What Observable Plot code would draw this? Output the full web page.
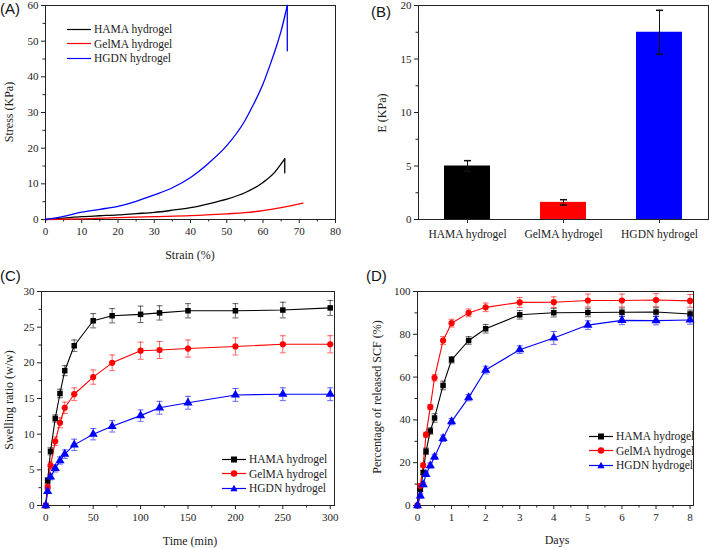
<!DOCTYPE html>
<html><head><meta charset="utf-8">
<script src="https://cdn.jsdelivr.net/npm/d3@7"></script>
<script src="https://cdn.jsdelivr.net/npm/@observablehq/plot@0.6"></script>
<style>
body{margin:0;background:#fff;}
#wrap{position:relative;width:709px;height:548px;overflow:hidden;font-family:"Liberation Serif","Times New Roman","DejaVu Serif",serif;color:#222;}
.t{position:absolute;white-space:nowrap;font-size:12px;transform:translate(-50%,-50%);}
.r{transform:translate(-50%,-50%) rotate(-90deg);}
.pl{position:absolute;font-family:"Liberation Sans",Arial,sans-serif;font-size:15px;color:#111;}
.leg{position:absolute;font-size:11.5px;line-height:14px;}
.leg div{height:14.5px;display:flex;align-items:center;}
.leg svg{margin-right:3px;}
</style></head><body><div id="wrap"></div>
<script>
// ---------- shared ----------
const names = ["HAMA hydrogel", "GelMA hydrogel", "HGDN hydrogel"];
const colors = ["#000000", "#ff0000", "#0000ff"];
const symbols = ["square", "circle", "triangle"];

// ---------- (A) stress-strain (last point of HAMA/HGDN = post-break drop) ----------
const strainHAMA = [0, 5, 10, 15, 20, 25, 30, 35, 40, 45, 50, 55, 60, 63, 65, 66.0, 66.0];
const stressHAMA = [0, 0.4, 0.8, 1.05, 1.3, 1.65, 2.0, 2.6, 3.3, 4.4, 5.7, 7.5, 10.4, 13.0, 15.6, 17.0, 13.1];
const strainGelMA = [0, 10, 20, 30, 40, 50, 55, 60, 65, 71];
const stressGelMA = [0, 0.2, 0.5, 0.8, 1.1, 1.6, 1.9, 2.5, 3.3, 4.6];
const strainHGDN = [0, 5, 10, 15, 20, 25, 30, 35, 40, 45, 50, 55, 57.5, 60, 62, 64, 65, 66.7, 66.7];
const stressHGDN = [0, 0.9, 2.05, 2.85, 3.7, 5.1, 6.9, 8.9, 11.8, 15.8, 20.7, 27.7, 32.5, 38.0, 43.5, 49.5, 52.9, 60.0, 47.3];
const xTicksA = [0, 10, 20, 30, 40, 50, 60, 70, 80];
const xMinorA = [5, 15, 25, 35, 45, 55, 65, 75];
const yTicksA = [0, 10, 20, 30, 40, 50, 60];
const yMinorA = [5, 15, 25, 35, 45, 55];

// ---------- (B) modulus ----------
const modulusMean = [5.0, 1.6, 17.5];
const modulusErr = [0.5, 0.25, 2.05];
const yTicksB = [0, 5, 10, 15, 20];
const yMinorB = [2.5, 7.5, 12.5, 17.5];

// ---------- (C) swelling ----------
const timeMin = [0, 2, 5, 10, 15, 20, 30, 50, 70, 100, 120, 150, 200, 250, 300];
const swellHAMA = [0, 3.5, 7.6, 12.2, 15.7, 18.9, 22.4, 25.9, 26.6, 26.8, 27.0, 27.3, 27.3, 27.4, 27.7];
const swellHAMAErr = [0, 0.4, 0.5, 0.5, 0.6, 0.7, 0.8, 1.0, 1.0, 1.15, 1.0, 1.0, 1.0, 1.1, 1.05];
const swellGelMA = [0, 2.6, 5.6, 9.0, 11.6, 13.7, 15.6, 18.0, 20.0, 21.7, 21.8, 22.0, 22.3, 22.6, 22.6];
const swellGelMAErr = [0, 0.3, 0.5, 0.6, 0.7, 0.8, 0.9, 1.0, 1.1, 1.2, 1.2, 1.2, 1.2, 1.2, 1.2];
const swellHGDN = [0, 2.0, 4.0, 5.2, 6.3, 7.2, 8.5, 10.0, 11.1, 12.6, 13.7, 14.4, 15.5, 15.6, 15.6];
const swellHGDNErr = [0, 0.3, 0.4, 0.5, 0.5, 0.6, 0.8, 0.8, 0.8, 0.8, 0.9, 0.9, 0.9, 0.9, 0.9];
const xTicksC = [0, 50, 100, 150, 200, 250, 300];
const xMinorC = [25, 75, 125, 175, 225, 275];
const yTicksC = [0, 5, 10, 15, 20, 25, 30];
const yMinorC = [2.5, 7.5, 12.5, 17.5, 22.5, 27.5];

// ---------- (D) release ----------
const days = [0, 0.083, 0.167, 0.25, 0.375, 0.5, 0.75, 1, 1.5, 2, 3, 4, 5, 6, 7, 8];
const relHAMA = [0, 7.5, 15.4, 25.3, 34.8, 40.9, 56.1, 68.1, 77.1, 82.6, 89.1, 90.1, 90.2, 90.3, 90.4, 89.5];
const relHAMAErr = [0, 1, 1, 1.5, 1.5, 2, 2, 1.5, 1.8, 2, 2, 2, 2, 2, 2, 1.8];
const relGelMA = [0, 9.2, 18.8, 33.1, 46.0, 59.7, 77.1, 85.2, 90.0, 92.6, 94.9, 95.0, 95.8, 95.8, 96.0, 95.6];
const relGelMAErr = [0, 1, 1, 1.2, 1.2, 1.5, 1.8, 1.8, 1.8, 2, 2.3, 2.5, 3, 3, 3, 3];
const relHGDN = [0, 4.5, 9.8, 14.6, 18.7, 22.7, 31.4, 39.2, 50.4, 63.3, 72.8, 78.3, 84.3, 86.5, 86.4, 86.7];
const relHGDNErr = [0, 1, 1, 1, 1.2, 1.2, 1.5, 1.5, 1.5, 1.8, 1.8, 3, 2, 2, 2, 2];
const xTicksD = [0, 1, 2, 3, 4, 5, 6, 7, 8];
const xMinorD = [0.5, 1.5, 2.5, 3.5, 4.5, 5.5, 6.5, 7.5];
const yTicksD = [0, 20, 40, 60, 80, 100];
const yMinorD = [10, 30, 50, 70, 90];

// ---------- helpers ----------
const wrap = document.getElementById("wrap");
function place(node, left, top) {
  const d = document.createElement("div");
  d.style.cssText = `position:absolute;left:${left}px;top:${top}px;`;
  d.appendChild(node);
  wrap.appendChild(d);
}
function text(str, x, y, cls = "t", extra = "") {
  const d = document.createElement("div");
  d.className = cls;
  d.style.cssText = `left:${x}px;top:${y}px;${extra}`;
  d.textContent = str;
  wrap.appendChild(d);
}
const style = {fontFamily: "'Liberation Serif', 'Times New Roman', 'DejaVu Serif', serif", fontSize: "11px", color: "#222", background: "transparent", overflow: "visible"};
const cap = {draw(ctx, size) { const w = Math.sqrt(size / Math.PI); ctx.moveTo(-w, 0); ctx.lineTo(w, 0); }};
const noText = () => "";
function axes(xt, xm, yt, ym) {
  const m = [
    Plot.frame({stroke: "#222", strokeWidth: 1}),
    Plot.axisY(yt, {tickSize: 4, tickPadding: 3, label: null, stroke: "#222"}),
    Plot.axisY(ym, {tickSize: 2.5, tickFormat: noText, label: null, stroke: "#222"})
  ];
  if (xt) m.push(Plot.axisX(xt, {tickSize: 4, tickPadding: 4, label: null, stroke: "#222"}));
  if (xm) m.push(Plot.axisX(xm, {tickSize: 2.5, tickFormat: noText, label: null, stroke: "#222"}));
  return m;
}
function seriesTable(xs, ys, es) {
  return xs.map((x, j) => ({x, y: ys[j], e: es ? es[j] : 0}));
}
function errMarks(tables) {
  const m = [];
  tables.forEach((t, i) => {
    const withErr = t.filter(d => d.e > 0);
    const o = {stroke: colors[i], strokeOpacity: 0.6, strokeWidth: 1};
    m.push(Plot.ruleX(withErr, {x: "x", y1: d => d.y - d.e, y2: d => d.y + d.e, ...o}));
    m.push(Plot.dot(withErr, {x: "x", y: d => d.y + d.e, symbol: cap, r: 3, fill: "none", ...o}));
    m.push(Plot.dot(withErr, {x: "x", y: d => d.y - d.e, symbol: cap, r: 3, fill: "none", ...o}));
  });
  return m;
}
function lineDotMarks(tables) {
  const m = [];
  tables.forEach((t, i) => m.push(Plot.line(t, {x: "x", y: "y", stroke: colors[i], strokeWidth: 1.1})));
  tables.forEach((t, i) => m.push(Plot.dot(t, {x: "x", y: "y", symbol: symbols[i], r: symbols[i] === "triangle" ? 3.4 : 3.1, fill: colors[i], stroke: "none"})));
  return m;
}
function legend(left, top, withMarkers) {
  const box = document.createElement("div");
  box.className = "leg";
  box.style.cssText = `left:${left}px;top:${top}px;`;
  names.forEach((n, i) => {
    const row = document.createElement("div");
    const s = withMarkers ? symbols[i] : null;
    let mk = "";
    if (s === "square") mk = `<rect x="9" y="2.5" width="6" height="6" fill="${colors[i]}"/>`;
    else if (s === "circle") mk = `<circle cx="12" cy="5.5" r="3.2" fill="${colors[i]}"/>`;
    else if (s === "triangle") mk = `<path d="M12,1.8L15.6,8.3L8.4,8.3Z" fill="${colors[i]}"/>`;
    row.innerHTML = `<svg width="24" height="11"><line x1="0" x2="24" y1="5.5" y2="5.5" stroke="${colors[i]}" stroke-width="1.2"/>${mk}</svg><span>${n}</span>`;
    box.appendChild(row);
  });
  wrap.appendChild(box);
}

// ---------- Panel A ----------
const tA = [seriesTable(strainHAMA, stressHAMA), seriesTable(strainGelMA, stressGelMA), seriesTable(strainHGDN, stressHGDN)];
const hasDrop = [true, false, true];
const aMarks = [];
tA.forEach((t, i) => {
  const main = hasDrop[i] ? t.slice(0, -1) : t;
  aMarks.push(Plot.line(main, {x: "x", y: "y", stroke: colors[i], strokeWidth: 1.3, curve: "monotone-x"}));
  if (hasDrop[i]) aMarks.push(Plot.line(t.slice(-2), {x: "x", y: "y", stroke: colors[i], strokeWidth: 1.3}));
});
place(Plot.plot({
  width: 354, height: 270, marginLeft: 45, marginRight: 19, marginTop: 5, marginBottom: 51,
  style, x: {domain: [0, 80]}, y: {domain: [0, 60]},
  marks: [...axes(xTicksA, xMinorA, yTicksA, yMinorA), ...aMarks]
}), 0, 0);
text("(A)", 0, 0, "pl");
text("Strain (%)", 190, 255);
text("Stress (KPa)", 9, 112, "t r");
legend(67, 22, false);

// ---------- Panel B ----------
const tB = names.map((n, i) => ({name: n, mean: modulusMean[i], err: modulusErr[i]}));
place(Plot.plot({
  width: 355, height: 270, marginLeft: 64, marginRight: 1, marginTop: 5, marginBottom: 51,
  style,
  x: {type: "band", domain: names, paddingInner: 0.52, paddingOuter: 0.26},
  y: {domain: [0, 20]},
  marks: [
    ...tB.map((d, i) => Plot.barY([d], {x: "name", y: "mean", fill: colors[i]})),
    ...axes(null, null, yTicksB, yMinorB),
    Plot.axisX({tickSize: 4, tickPadding: 6, label: null, stroke: "#222", fontSize: 11.5}),
    Plot.ruleX(tB, {x: "name", y1: d => d.mean - d.err, y2: d => d.mean + d.err, stroke: "#111"}),
    Plot.dot(tB, {x: "name", y: d => d.mean + d.err, symbol: cap, r: 3.5, stroke: "#111", fill: "none"}),
    Plot.dot(tB, {x: "name", y: d => d.mean - d.err, symbol: cap, r: 3.5, stroke: "#111", fill: "none"})
  ]
}), 354, 0);
text("(B)", 371, 3, "pl");
text("E (KPa)", 382, 113, "t r");

// ---------- Panel C ----------
const tC = [seriesTable(timeMin, swellHAMA, swellHAMAErr), seriesTable(timeMin, swellGelMA, swellGelMAErr), seriesTable(timeMin, swellHGDN, swellHGDNErr)];
place(Plot.plot({
  width: 354, height: 278, marginLeft: 41, marginRight: 20, marginTop: 21, marginBottom: 43,
  style, x: {domain: [-4.5, 304.5]}, y: {domain: [0, 30]},
  marks: [...axes(xTicksC, xMinorC, yTicksC, yMinorC), ...errMarks(tC), ...lineDotMarks(tC)]
}), 0, 270);
text("(C)", 0, 267, "pl");
text("Time (min)", 190, 541);
text("Swelling ratio (w/w)", 9, 400, "t r");
legend(222, 452, true);

// ---------- Panel D ----------
const tD = [seriesTable(days, relHAMA, relHAMAErr), seriesTable(days, relGelMA, relGelMAErr), seriesTable(days, relHGDN, relHGDNErr)];
place(Plot.plot({
  width: 355, height: 278, marginLeft: 63, marginRight: 16, marginTop: 21, marginBottom: 43,
  style, x: {domain: [0, 8.1]}, y: {domain: [0, 100]},
  marks: [...axes(xTicksD, xMinorD, yTicksD, yMinorD), ...errMarks(tD), ...lineDotMarks(tD)]
}), 354, 270);
text("(D)", 366, 267, "pl");
text("Days", 557, 540);
text("Percentage of released SCF (%)", 377, 397, "t r");
legend(589, 429, true);
</script></body></html>
